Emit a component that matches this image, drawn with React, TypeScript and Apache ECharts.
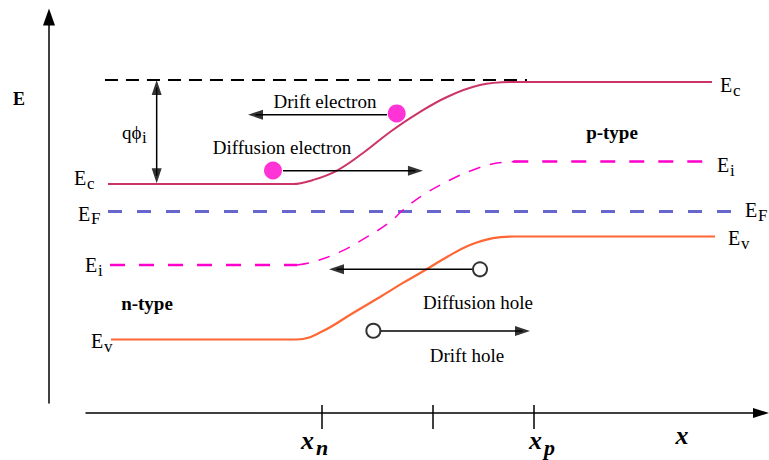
import React, { useEffect, useRef } from 'react';
import * as echarts from 'echarts';

const SERIF = '"Liberation Serif", "Times New Roman", serif';

// ---- x positions along the device (arbitrary units 0..100) ----
const xTickValues = [34.9, 51.3, 66.4];

// ---- band edges (energy in eV relative to E_F) ----
const ecBand: number[][] = [
  [3.26, 0.198], [30.67, 0.198], [33.63, 0.227], [37.04, 0.291], [41.04, 0.421],
  [45.04, 0.572], [48.74, 0.694], [53.48, 0.824], [58.37, 0.91], [63.26, 0.932], [92.74, 0.932],
];
const eiLeft: number[][] = [[3.56, -0.385], [31.26, -0.385]];
const eiCurve: number[][] = [
  [31.26, -0.385], [33.63, -0.363], [37.63, -0.291], [41.63, -0.183], [45.04, -0.076],
  [46.96, 0.011], [49.93, 0.119], [53.93, 0.227], [57.33, 0.299], [60.89, 0.349], [64.3, 0.36],
];
const eiRight: number[][] = [[63.3, 0.36], [91.41, 0.36]];
const evBand: number[][] = [
  [3.7, -0.921], [31.26, -0.921], [35.11, -0.86], [39.56, -0.73], [43.56, -0.615],
  [46.96, -0.514], [50.52, -0.414], [53.48, -0.327], [56.89, -0.241], [60.3, -0.191],
  [63.56, -0.18], [93.19, -0.18],
];
const efLevel: number[][] = [[3.26, 0], [95.85, 0]];
const refLevel: number[][] = [[2.81, 0.946], [65.33, 0.946]];

// ---- built-in potential arrow ----
const phiArrow: number[][] = [[10.47, 0.892], [10.47, 0.257]];
const phiHeads = [
  { value: [10.47, 0.892], symbolRotate: 0 },
  { value: [10.47, 0.257], symbolRotate: 180 },
];

// ---- carrier arrows ----
const driftElectronArrow: number[][] = [[44.59, 0.697], [25.11, 0.697]];
const diffElectronArrow: number[][] = [[29.19, 0.293], [48.81, 0.293]];
const diffHoleArrow: number[][] = [[57.19, -0.416], [37.11, -0.416]];
const driftHoleArrow: number[][] = [[43.7, -0.86], [64.67, -0.86]];
const arrowHeads = [
  { value: [25.11, 0.697], symbolRotate: 90 },
  { value: [48.81, 0.293], symbolRotate: -90 },
  { value: [37.11, -0.416], symbolRotate: 90 },
  { value: [64.67, -0.86], symbolRotate: -90 },
];
const electrons: number[][] = [[46.03, 0.706], [27.7, 0.295]];
const holes: number[][] = [[58.37, -0.416], [42.57, -0.858]];

function txt(x: number, y: number, text: string, size: number, opts: any = {}) {
  return {
    type: 'text',
    x,
    y,
    silent: true,
    style: {
      text,
      align: opts.align || 'center',
      verticalAlign: 'middle',
      fontSize: size,
      fontFamily: SERIF,
      fontWeight: opts.bold ? 'bold' : 'normal',
      fontStyle: opts.italic ? 'italic' : 'normal',
      fill: '#000',
    },
  };
}

function subLabel(x: number, yc: number, main: string, sub: string, size: number, subSize: number, dx: number, dy: number, opts: any = {}) {
  return {
    type: 'group',
    children: [
      txt(x, yc, main, size, { ...opts, align: 'left' }),
      txt(x + dx, yc + dy, sub, subSize, { ...opts, align: 'left' }),
    ],
  };
}

function bandLabel(x: number, yc: number, sub: string) {
  return subLabel(x, yc, 'E', sub, 20, 17, 13, 5);
}

function bandLine(data: number[][], color: string, width: number, type: any, smooth: any) {
  return {
    type: 'line',
    data,
    symbol: 'none',
    smooth,
    clip: false,
    silent: true,
    lineStyle: { color, width, type },
    z: 2,
  };
}

export default function App() {
  const ref = useRef<HTMLDivElement>(null);
  useEffect(() => {
    const chart = echarts.init(ref.current!, undefined, { renderer: 'svg' });
    const option: any = {
      animation: false,
      backgroundColor: '#fff',
      grid: [
        { left: 86, right: 8, top: 10, bottom: 47 },
        { left: 49, width: 10, top: 17, bottom: 57 },
      ],
      xAxis: [
        {
          type: 'value', gridIndex: 0, min: 0, max: 100, position: 'bottom',
          axisLine: { show: true, onZero: false, symbol: ['none', 'triangle'], symbolSize: [10, 16], lineStyle: { color: '#000', width: 1.5 } },
          axisTick: { show: true, customValues: xTickValues, length: 16, lineStyle: { color: '#000', width: 1.5 } },
          axisLabel: { show: false },
          splitLine: { show: false },
        },
        {
          type: 'value', gridIndex: 0, min: 0, max: 100, position: 'bottom',
          axisLine: { show: false, onZero: false },
          axisTick: { show: true, inside: true, customValues: xTickValues, length: 8, lineStyle: { color: '#000', width: 1.5 } },
          axisLabel: { show: false },
          splitLine: { show: false },
        },
        { type: 'value', gridIndex: 1, show: false, min: 0, max: 1, splitLine: { show: false } },
      ],
      yAxis: [
        { type: 'value', gridIndex: 0, min: -1.45, max: 1.45, show: false, splitLine: { show: false } },
        {
          type: 'value', gridIndex: 1, min: 0, max: 1, position: 'left',
          axisLine: { show: true, onZero: false, symbol: ['none', 'triangle'], symbolSize: [12, 17], lineStyle: { color: '#000', width: 1.5 } },
          axisTick: { show: false },
          axisLabel: { show: false },
          splitLine: { show: false },
        },
      ],
      series: [
        bandLine(refLevel, '#000000', 2, [13, 8], false),
        bandLine(efLevel, '#6666cc', 3, [14, 15], false),
        bandLine(ecBand, '#cc3366', 2, 'solid', 0.4),
        bandLine(eiLeft, '#ff00cc', 2.5, [15, 14], false),
        bandLine(eiCurve, '#ff00cc', 1.5, [12, 10], 0.4),
        bandLine(eiRight, '#ff00cc', 2.5, [15, 14], false),
        bandLine(evBand, '#ff6633', 2.2, 'solid', 0.4),
        bandLine(phiArrow, '#000', 1.5, 'solid', false),
        bandLine(driftElectronArrow, '#000', 1.5, 'solid', false),
        bandLine(diffElectronArrow, '#000', 1.5, 'solid', false),
        bandLine(diffHoleArrow, '#000', 1.5, 'solid', false),
        bandLine(driftHoleArrow, '#000', 1.5, 'solid', false),
        {
          type: 'scatter', data: [...phiHeads, ...arrowHeads], symbol: 'triangle', symbolSize: [10, 15],
          itemStyle: { color: '#000' }, silent: true, clip: false, z: 4,
        },
        {
          type: 'scatter', data: electrons, symbol: 'circle', symbolSize: 18,
          itemStyle: { color: '#ff00cc' }, silent: true, clip: false, z: 5,
        },
        {
          type: 'scatter', data: holes, symbol: 'circle', symbolSize: 14,
          itemStyle: { color: '#fff', borderColor: '#000', borderWidth: 2 }, silent: true, clip: false, z: 5,
        },
      ],
      graphic: {
        elements: [
          txt(19, 99, 'E', 18, { bold: true }),
          subLabel(122, 132, 'qϕ', 'i', 19, 17, 20, 5),
          txt(325, 101, 'Drift electron', 19),
          txt(282, 147, 'Diffusion electron', 19),
          txt(612, 132, 'p-type', 19, { bold: true }),
          txt(147, 303, 'n-type', 19, { bold: true }),
          txt(478, 302, 'Diffusion hole', 19),
          txt(467, 355, 'Drift hole', 19),
          bandLabel(74, 178, 'c'),
          bandLabel(78, 213.5, 'F'),
          bandLabel(85, 265, 'i'),
          bandLabel(91, 341, 'v'),
          bandLabel(720, 85, 'c'),
          bandLabel(717, 165, 'i'),
          bandLabel(745, 210, 'F'),
          bandLabel(728, 238, 'v'),
          subLabel(301, 440, 'x', 'n', 26, 22, 15, 7, { bold: true, italic: true }),
          subLabel(529, 440, 'x', 'p', 26, 22, 15, 7, { bold: true, italic: true }),
          txt(682, 435, 'x', 26, { bold: true, italic: true }),
        ],
      },
    };
    chart.setOption(option);
    return () => chart.dispose();
  }, []);
  return (
    <div
      ref={ref}
      style={{ position: 'fixed', left: 0, top: 0, width: 769, height: 460, background: '#fff' }}
    />
  );
}
